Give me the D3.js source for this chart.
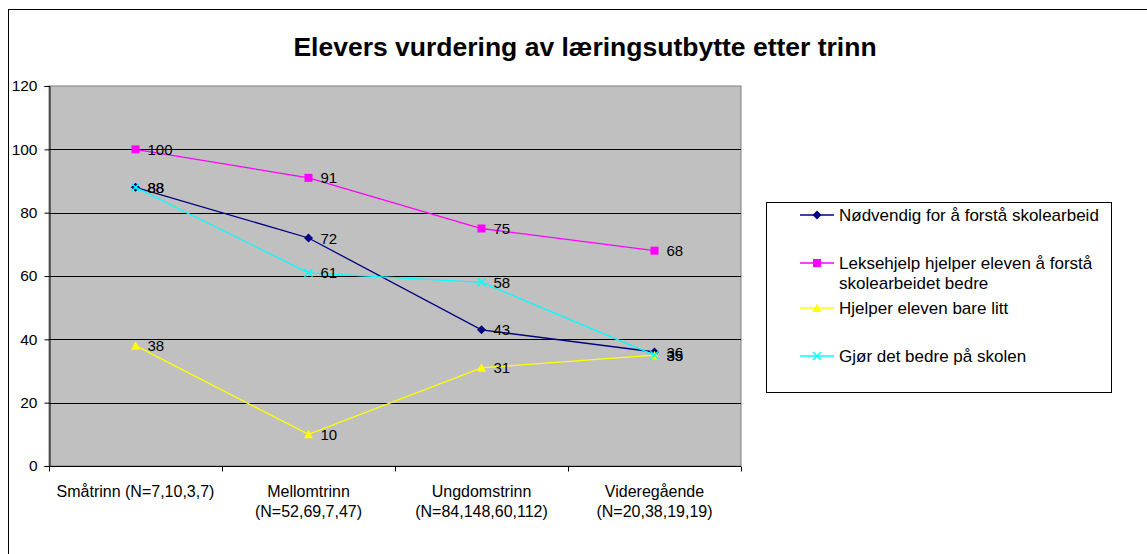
<!DOCTYPE html>
<html>
<head>
<meta charset="utf-8">
<script src="https://cdn.jsdelivr.net/npm/d3@7"></script>
<style>
  body { margin: 0; background: #fff; }
  svg text { font-family: "Liberation Sans", Arial, sans-serif; fill: #000; }
</style>
</head>
<body>
<svg id="chart" width="1147" height="554"></svg>
<script>
// chart data
const categories = ['Småtrinn (N=7,10,3,7)', 'Mellomtrinn (N=52,69,7,47)', 'Ungdomstrinn (N=84,148,60,112)', 'Videregående (N=20,38,19,19)']
const categoryLines = [['Småtrinn (N=7,10,3,7)'], ['Mellomtrinn', '(N=52,69,7,47)'], ['Ungdomstrinn', '(N=84,148,60,112)'], ['Videregående', '(N=20,38,19,19)']]
const seriesNames = ['Nødvendig for å forstå skolearbeid', 'Leksehjelp hjelper eleven å forstå skolearbeidet bedre', 'Hjelper eleven bare litt', 'Gjør det bedre på skolen']
const legendLines = [['Nødvendig for å forstå skolearbeid'], ['Leksehjelp hjelper eleven å forstå', 'skolearbeidet bedre'], ['Hjelper eleven bare litt'], ['Gjør det bedre på skolen']]
const nodvendig = [88, 72, 43, 36]
const leksehjelp = [100, 91, 75, 68]
const bareLitt = [38, 10, 31, 35]
const gjorBedre = [88, 61, 58, 35]
const yTicks = [0, 20, 40, 60, 80, 100, 120]

const colors = ['#000080', '#ff00ff', '#ffff00', '#00ffff']
const symbols = ['diamond', 'square', 'triangle', 'cross']
const allSeries = [nodvendig, leksehjelp, bareLitt, gjorBedre]

const svg = d3.select('#chart')

// outer frame (right and bottom edges fall outside the picture)
svg.append('rect')
    .attr('x', 8.5).attr('y', 9.5)
    .attr('width', 1200).attr('height', 600)
    .attr('fill', 'none').attr('stroke', '#000').attr('stroke-width', 1)

svg.append('text')
    .attr('x', 585).attr('y', 56)
    .attr('text-anchor', 'middle')
    .style('font-size', '26.5px').style('font-weight', 'bold')
    .text('Elevers vurdering av læringsutbytte etter trinn')

const plot = { left: 49, top: 86, right: 741, bottom: 466 }

const x = d3.scaleBand().domain(categories).range([plot.left, plot.right])
const y = d3.scaleLinear().domain([0, 120]).range([plot.bottom, plot.top])

svg.append('rect')
    .attr('x', plot.left).attr('y', plot.top)
    .attr('width', plot.right - plot.left).attr('height', plot.bottom - plot.top)
    .attr('fill', '#c0c0c0').attr('stroke', '#808080')

// gridlines
svg.append('g').selectAll('line')
    .data(yTicks.filter(d => d > 0 && d < 120))
    .enter().append('line')
    .attr('x1', plot.left).attr('x2', plot.right)
    .attr('y1', d => Math.round(y(d)) + 0.5).attr('y2', d => Math.round(y(d)) + 0.5)
    .attr('stroke', '#000')

// y axis
const yAxis = svg.append('g')
    .attr('transform', `translate(${plot.left + 0.5},0)`)
    .call(d3.axisLeft(y).tickValues(yTicks).tickSize(5).tickPadding(7))
yAxis.select('.domain').attr('stroke', '#000')
yAxis.selectAll('text')
    .style('font-size', '15.5px')
    .style('font-family', '"Liberation Sans", Arial, sans-serif')

// x axis
const xAxisG = svg.append('g')
    .attr('transform', `translate(0,${plot.bottom + 0.5})`)
xAxisG.append('line')
    .attr('x1', plot.left).attr('x2', plot.right)
    .attr('stroke', '#000')
xAxisG.selectAll('.tick')
    .data(categories.concat(['end']))
    .enter().append('line')
    .attr('x1', (d, i) => Math.round(i < 4 ? x(d) : plot.right) + 0.5)
    .attr('x2', (d, i) => Math.round(i < 4 ? x(d) : plot.right) + 0.5)
    .attr('y1', 0).attr('y2', 5)
    .attr('stroke', '#000')

categories.forEach((c, i) => {
    const t = svg.append('text')
        .attr('x', x(c) + x.bandwidth() / 2)
        .attr('y', 497)
        .attr('text-anchor', 'middle')
        .style('font-size', '16px')
    categoryLines[i].forEach((line, j) => {
        t.append('tspan').attr('x', x(c) + x.bandwidth() / 2).attr('dy', j ? 20 : 0).text(line)
    })
})

const cx = i => x(categories[i]) + x.bandwidth() / 2
const line = d3.line().x((d, i) => cx(i)).y(d => y(d))

function drawMarker(g, type, color) {
    if (type === 'diamond') {
        g.append('path').attr('d', 'M0,-4.5L4.5,0L0,4.5L-4.5,0Z').attr('fill', color)
    } else if (type === 'square') {
        g.append('rect').attr('x', -4).attr('y', -4).attr('width', 8).attr('height', 8).attr('fill', color)
    } else if (type === 'triangle') {
        g.append('path').attr('d', 'M0,-4.5L4.5,4L-4.5,4Z').attr('fill', color)
    } else {
        g.append('path').attr('d', 'M-4,-4L4,4M-4,4L4,-4').attr('stroke', color).attr('stroke-width', 1.5)
    }
}

allSeries.forEach((vals, s) => {
    svg.append('path')
        .datum(vals)
        .attr('d', line)
        .attr('fill', 'none')
        .attr('stroke', colors[s])
        .attr('stroke-width', 1.3)
    vals.forEach((v, i) => {
        const g = svg.append('g').attr('transform', `translate(${cx(i)},${y(v)})`)
        drawMarker(g, symbols[s], colors[s])
    })
})

// data labels
allSeries.forEach((vals, s) => {
    vals.forEach((v, i) => {
        svg.append('text')
            .attr('x', cx(i) + 12)
            .attr('y', y(v) + 5.5)
            .style('font-size', '15px')
            .text(v)
    })
})

// legend
const legend = svg.append('g')
legend.append('rect')
    .attr('x', 766.5).attr('y', 202.5)
    .attr('width', 345).attr('height', 190)
    .attr('fill', '#fff').attr('stroke', '#000')

const legendY = [215, 263, 308, 356]
seriesNames.forEach((name, s) => {
    const g = legend.append('g').attr('transform', `translate(0,${legendY[s]})`)
    g.append('line').attr('x1', 800).attr('x2', 834).attr('stroke', colors[s]).attr('stroke-width', 1.3)
    const m = g.append('g').attr('transform', 'translate(817,0)')
    drawMarker(m, symbols[s], colors[s])
    const t = g.append('text').attr('x', 839).attr('y', 6).style('font-size', '17px')
    legendLines[s].forEach((l, j) => {
        t.append('tspan').attr('x', 839).attr('dy', j ? 20 : 0).text(l)
    })
})
</script>
</body>
</html>
